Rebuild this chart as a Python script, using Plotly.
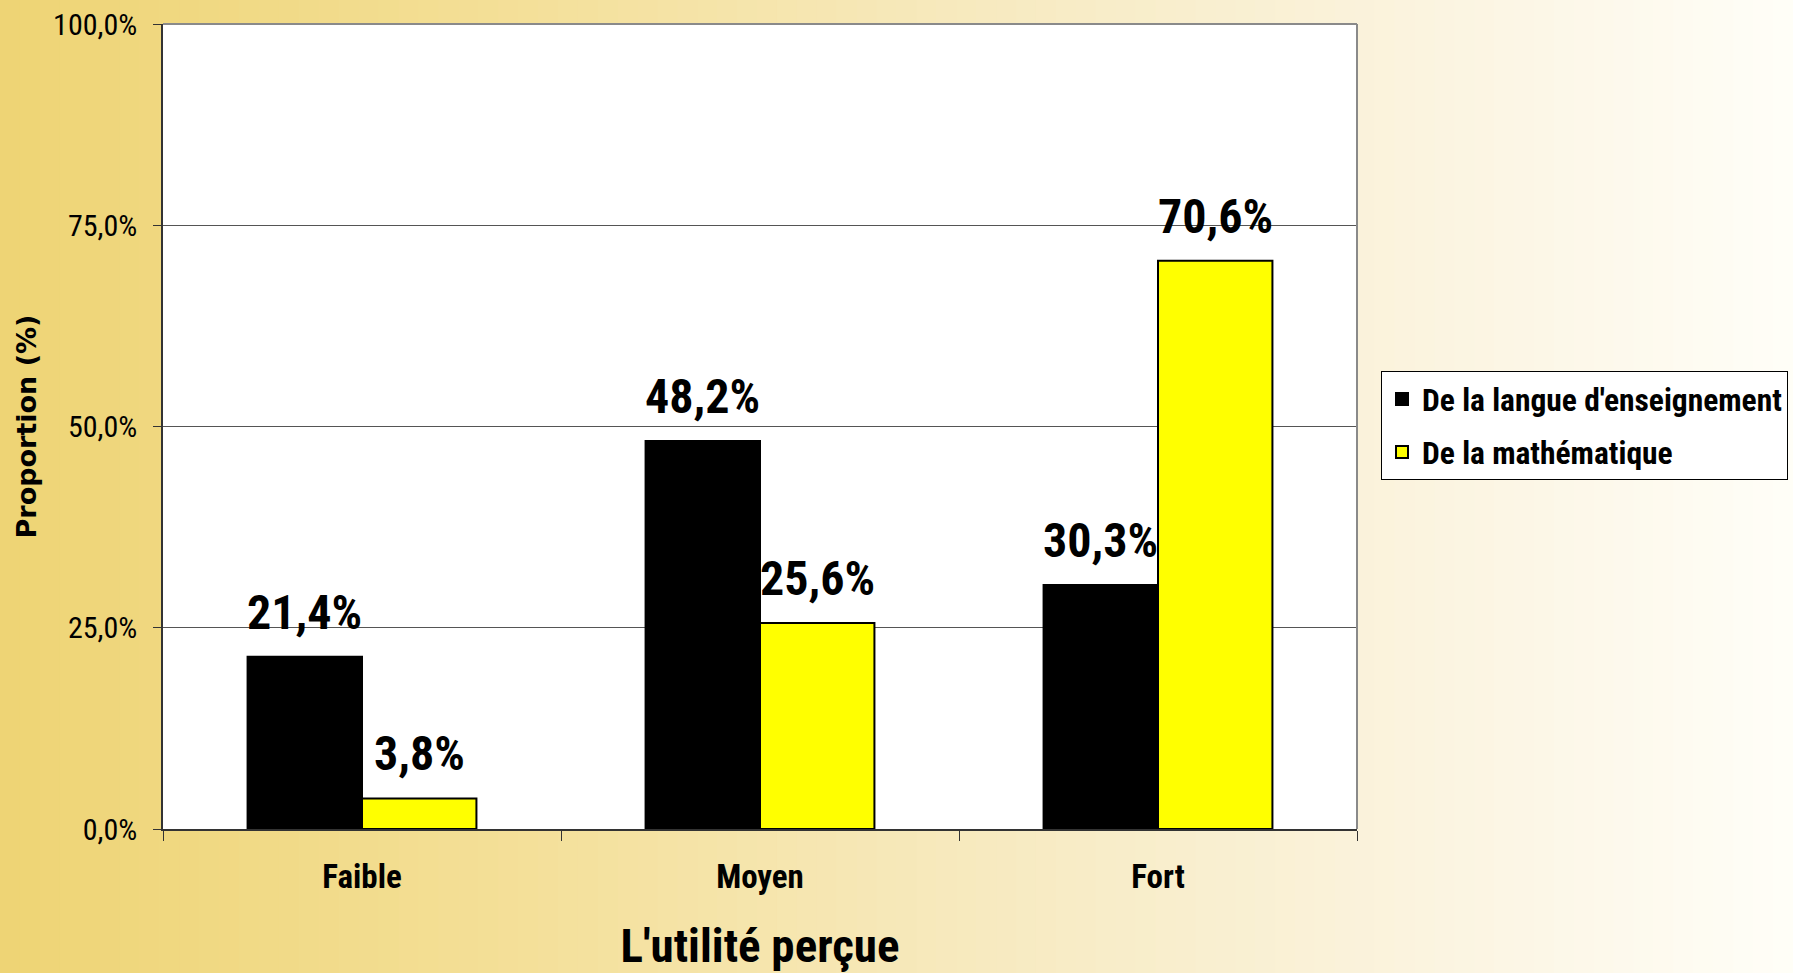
import plotly.graph_objects as go

categories = ["Faible", "Moyen", "Fort"]
series_names = ["De la langue d'enseignement", "De la mathématique"]
langue = [21.4, 48.2, 30.3]
maths = [3.8, 25.6, 70.6]
y_ticks = [0, 25, 50, 75, 100]
y_ticklabels = ["0,0%", "25,0%", "50,0%", "75,0%", "100,0%"]

W, H = 1793, 973
ML, MR, MT, MB = 163, 436, 24, 144
PW, PH = W - ML - MR, H - MT - MB

NARROW = "Roboto Condensed, Liberation Sans Narrow, sans-serif"

fig = go.Figure()
fig.add_trace(go.Bar(name=series_names[0], x=categories, y=langue, legendgroup="a",
                     marker=dict(color="#000000", line=dict(color="#000000", width=2))))
fig.add_trace(go.Bar(name=series_names[1], x=categories, y=maths, legendgroup="b",
                     marker=dict(color="#FFFF00", line=dict(color="#000000", width=2))))

# background gradient (horizontal) via stripes
stops = [(0.0, (0xEE, 0xD4, 0x74)), (0.3, (0xF4, 0xE0, 0x9A)), (0.55, (0xF7, 0xEA, 0xC0)),
         (0.8, (0xFB, 0xF4, 0xE0)), (1.0, (0xFF, 0xFE, 0xF8))]

def col(t):
    for (t0, c0), (t1, c1) in zip(stops[:-1], stops[1:]):
        if t0 <= t <= t1:
            f = (t - t0) / (t1 - t0)
            return "rgb(%d,%d,%d)" % tuple(round(a + (b - a) * f) for a, b in zip(c0, c1))
    return "rgb(255,254,248)"

shapes = []
N = 90
for i in range(N):
    fx0 = i / N
    fx1 = (i + 1) / N
    shapes.append(dict(type="rect", xref="paper", yref="paper", layer="below",
                       x0=(fx0 * W - ML) / PW, x1=(fx1 * W - ML) / PW + 0.002,
                       y0=-(MB + 2) / PH, y1=(H - MB + 2) / PH,
                       fillcolor=col((fx0 + fx1) / 2), line=dict(width=0)))
shapes.append(dict(type="rect", xref="paper", yref="paper", layer="below",
                   x0=0, x1=1, y0=0, y1=1, fillcolor="white", line=dict(width=0)))
# top & right border
shapes.append(dict(type="line", xref="paper", yref="paper", layer="above",
                   x0=0, x1=1, y0=1, y1=1, line=dict(color="#8a8a8a", width=2)))
shapes.append(dict(type="line", xref="paper", yref="paper", layer="above",
                   x0=1, x1=1, y0=0, y1=1, line=dict(color="#8a8a8a", width=2)))

bargap = 0.425
barpx = PW / len(categories) * (1 - bargap) / 2
annotations = []
for vals, sh in ((langue, -barpx / 2), (maths, barpx / 2)):
    for c, v in zip(categories, vals):
        annotations.append(dict(x=c, y=v, xref="x", yref="y", xshift=sh, yshift=14,
                                yanchor="bottom", showarrow=False,
                                text=("%.1f%%" % v).replace(".", ","),
                                font=dict(family=NARROW, size=48, color="black", weight="bold")))

fig.update_layout(
    width=W, height=H,
    margin=dict(l=ML, r=MR, t=MT, b=MB, autoexpand=False),
    paper_bgcolor="#F7EAC0", plot_bgcolor="white",
    barmode="group", bargap=bargap, bargroupgap=0,
    shapes=shapes, annotations=annotations,
    showlegend=True,
    legend=dict(xref="container", yref="container", x=1381 / W, y=1 - 371 / H,
                xanchor="left", yanchor="top",
                bgcolor="white", bordercolor="black", borderwidth=1,
                font=dict(family=NARROW, size=31.5, color="black", weight="bold"),
                tracegroupgap=9, itemsizing="constant", itemwidth=30),
    xaxis=dict(showline=True, linecolor="#333", linewidth=1.5, tickson="boundaries",
               ticks="outside", ticklen=10, tickcolor="#333", showgrid=False, automargin=False,
               tickfont=dict(family=NARROW, size=33, color="black", weight="bold"),
               ticklabelstandoff=18,
               title=dict(text="L'utilité perçue", standoff=36,
                          font=dict(family=NARROW, size=47, color="black", weight="bold"))),
    yaxis=dict(range=[0, 100], tickvals=y_ticks, ticktext=y_ticklabels, automargin=True,
               showline=True, linecolor="#333", linewidth=1.5, ticks="outside", ticklen=8,
               tickcolor="#333", showgrid=True, gridcolor="#555", gridwidth=1,
               tickfont=dict(family=NARROW, size=30, color="black"),
               ticklabelstandoff=10, zeroline=False,
               title=dict(text="Proportion (%)", standoff=9,
                          font=dict(family="DejaVu Sans", size=27, color="black", weight="bold"))),
)

fig.write_html("out.html")
